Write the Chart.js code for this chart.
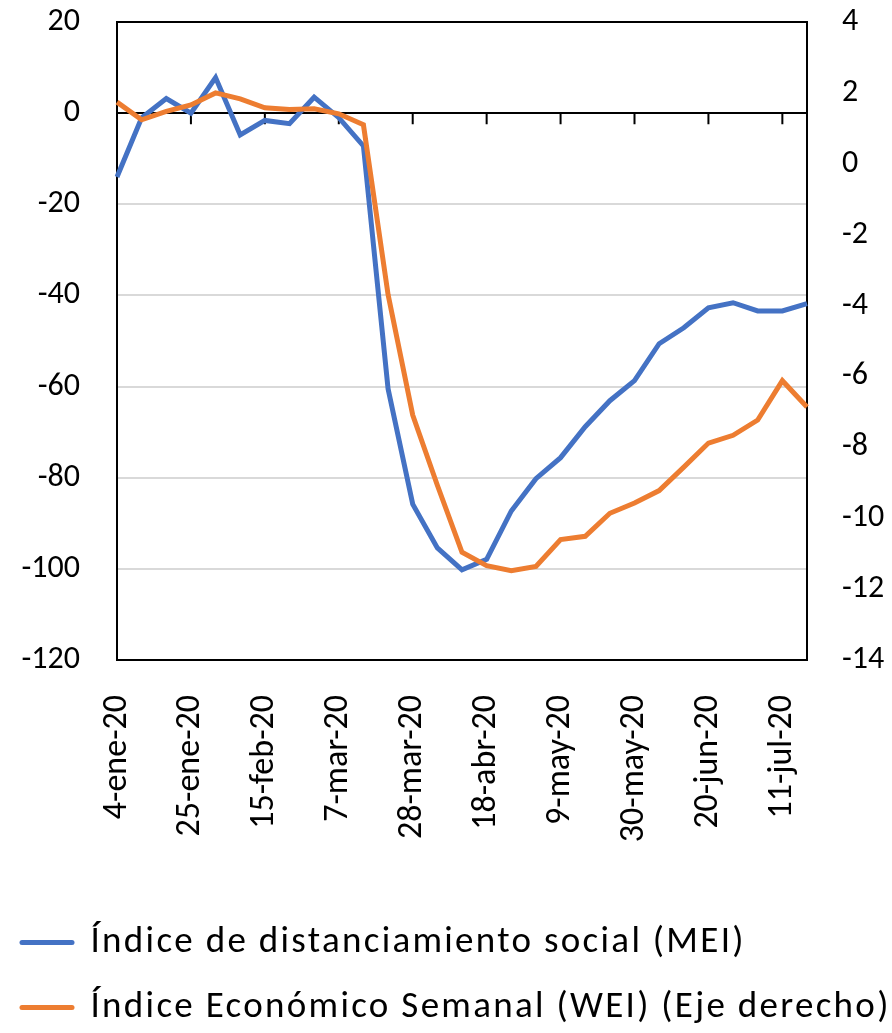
<!DOCTYPE html>
<html><head><meta charset="utf-8">
<script src="https://cdn.jsdelivr.net/npm/chart.js@4.4.1/dist/chart.umd.min.js"></script>
<style>html,body{margin:0;padding:0;background:#fff}</style>
</head><body>
<canvas id="c" width="892" height="1033"></canvas>
<script>
// ---- data ----
const weeks = ['4-ene-20','11-ene-20','18-ene-20','25-ene-20','1-feb-20','8-feb-20','15-feb-20','22-feb-20','29-feb-20',
  '7-mar-20','14-mar-20','21-mar-20','28-mar-20','4-abr-20','11-abr-20','18-abr-20','25-abr-20','2-may-20',
  '9-may-20','16-may-20','23-may-20','30-may-20','6-jun-20','13-jun-20','20-jun-20','27-jun-20','4-jul-20','11-jul-20','18-jul-20'];
const labelEvery = 3;
const meiValues = [-14, -1.0, 3.2, 0, 7.8, -4.8, -1.6, -2.3, 3.5, -1.0, -7.2, -60.5, -85.8, -95.4, -100.2, -97.9,
  -87.3, -80.2, -75.6, -68.8, -63.1, -58.7, -50.6, -47.1, -42.7, -41.6, -43.4, -43.4, -41.8];
const weiValues = [1.74, 1.24, 1.48, 1.66, 2.0, 1.83, 1.58, 1.53, 1.55, 1.41, 1.10, -3.69, -7.09, -9.07, -10.96, -11.34,
  -11.48, -11.36, -10.6, -10.51, -9.86, -9.57, -9.22, -8.56, -7.88, -7.66, -7.23, -6.12, -6.86];
const seriesNames = ['Índice de distanciamiento social (MEI)', 'Índice Económico Semanal (WEI) (Eje derecho)'];
const leftAxis = {min: -120, max: 20, step: 20};
const rightAxis = {min: -14, max: 4, step: 2};

// ---- styles ----
const BLUE = '#4472C4', ORANGE = '#ED7D31';
Chart.defaults.font.family = 'Carlito, Lato, sans-serif';
Chart.defaults.color = '#000';

const zeroTicks = {
  id: 'zeroTicks',
  beforeDatasetsDraw(chart) {
    const {ctx, scales: {x, y}} = chart;
    const y0 = y.getPixelForValue(0);
    ctx.save();
    ctx.strokeStyle = '#000'; ctx.lineWidth = 2;
    ctx.beginPath();
    weeks.forEach((w, i) => {
      if (i % labelEvery === 0 && i > 0) {
        const px = x.getPixelForValue(i);
        ctx.moveTo(px, y0); ctx.lineTo(px, y0 + 11);
      }
    });
    ctx.stroke();
    ctx.restore();
  }
};
const legendTweak = {
  id: 'legendTweak',
  afterInit(chart) {
    const lg = chart.legend;
    const fit = lg.fit.bind(lg);
    lg.fit = function () { fit(); this.height = 137; };
    const draw = lg.draw.bind(lg);
    lg.draw = function () {
      const l = this.left; this.left = l - 6;
      const ctx = this.ctx; ctx.save(); ctx.letterSpacing = '2.3px';
      draw();
      ctx.restore(); this.left = l;
    };
  }
};
const noPad = s => { s.paddingTop = 0; s.paddingBottom = 0; };

new Chart(document.getElementById('c'), {
  type: 'line',
  data: {
    labels: weeks,
    datasets: [
      {label: seriesNames[0], data: meiValues, yAxisID: 'y', borderColor: BLUE, backgroundColor: BLUE,
       borderWidth: 5, pointRadius: 0, tension: 0, order: 1},
      {label: seriesNames[1], data: weiValues, yAxisID: 'y1', borderColor: ORANGE, backgroundColor: ORANGE,
       borderWidth: 5, pointRadius: 0, tension: 0, order: 0}
    ]
  },
  options: {
    responsive: false,
    animation: false,
    layout: {padding: {top: 22, left: 0, right: 0, bottom: 0}},
    plugins: {
      tooltip: {enabled: false},
      legend: {
        position: 'bottom', align: 'start',
        labels: {
          font: {size: 37}, color: '#000', padding: 28,
          usePointStyle: true, pointStyleWidth: 50,
          generateLabels: chart => chart.data.datasets.map((ds, i) => ({
            text: ds.label, strokeStyle: ds.borderColor, fillStyle: ds.borderColor,
            lineWidth: 5, lineCap: 'round', pointStyle: 'line', datasetIndex: i, hidden: false
          }))
        }
      }
    },
    scales: {
      x: {
        offset: false,
        grid: {display: false},
        border: {display: true, color: '#000', width: 2},
        ticks: {
          autoSkip: false, maxRotation: 90, minRotation: 90, padding: 27,
          font: {size: 34}, color: '#000',
          callback: function (v, i) { return i % labelEvery === 0 ? this.getLabelForValue(v) : ''; }
        },
        afterFit: s => { s.height = 236; }
      },
      y: {
        position: 'left', min: leftAxis.min, max: leftAxis.max,
        grid: {
          drawTicks: false, lineWidth: 2,
          color: c => (c.tick.value === 0 || c.tick.value === leftAxis.max) ? '#000' : '#d9d9d9'
        },
        border: {display: true, color: '#000', width: 2},
        ticks: {stepSize: leftAxis.step, padding: 37, font: {size: 32}, color: '#000'},
        afterFit: s => { s.width = 117; noPad(s); }
      },
      y1: {
        position: 'right', min: rightAxis.min, max: rightAxis.max,
        grid: {display: false, drawTicks: false},
        border: {display: true, color: '#000', width: 2},
        ticks: {stepSize: rightAxis.step, padding: 35, font: {size: 32}, color: '#000'},
        afterFit: s => { s.width = 85; noPad(s); }
      }
    }
  },
  plugins: [zeroTicks, legendTweak]
});
</script>
</body></html>
